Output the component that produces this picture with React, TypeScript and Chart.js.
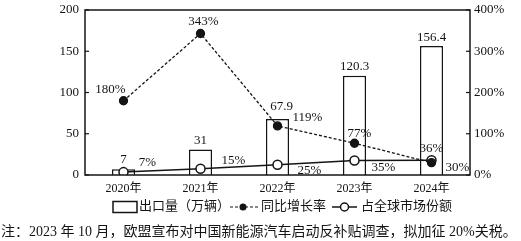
import React, { useEffect, useRef } from "react";
import { Chart, registerables } from "chart.js";

Chart.register(...registerables);

const categories = ["2020年", "2021年", "2022年", "2023年", "2024年"];
const exportVolume = [7, 31, 67.9, 120.3, 156.4];
const growthRate = [180, 343, 119, 77, 30];
const globalShare = [7, 15, 25, 35, 36];
const leftTicks = [0, 50, 100, 150, 200];
const rightTicks = [0, 100, 200, 300, 400];
const legendLabels = ["出口量（万辆）", "同比增长率", "占全球市场份额"];
const noteText = "注：2023 年 10 月，欧盟宣布对中国新能源汽车启动反补贴调查，拟加征 20%关税。";

// label offsets (style only)
const barLabelOffsets = [[0, -10], [0, -9], [4, -12], [0, -9], [0, -8]];
const growthLabelOffsets = [[-13, -11], [3, -12], [30, -8], [5, -10], [26, 5]];
const shareLabelOffsets = [[24, -10], [33, -8], [32, 6], [29, 7], [0, -12]];

const SERIF = "'Liberation Serif', 'Noto Sans CJK SC', serif";
const INK = "#141414";

const overlayPlugin = {
  id: "overlay",
  afterDatasetsDraw(chart: any) {
    const ctx = chart.ctx;
    const a = chart.chartArea;
    ctx.save();
    ctx.strokeStyle = INK;
    ctx.lineWidth = 1.5;
    ctx.strokeRect(a.left, a.top, a.right - a.left, a.bottom - a.top);
    const yl = chart.scales.y;
    const yr = chart.scales.y1;
    ctx.lineWidth = 1.2;
    yl.ticks.forEach((t: any) => {
      const y = yl.getPixelForValue(t.value);
      ctx.beginPath();
      ctx.moveTo(a.left, y);
      ctx.lineTo(a.left + 4, y);
      ctx.stroke();
    });
    yr.ticks.forEach((t: any) => {
      const y = yr.getPixelForValue(t.value);
      ctx.beginPath();
      ctx.moveTo(a.right, y);
      ctx.lineTo(a.right - 4, y);
      ctx.stroke();
    });

    ctx.fillStyle = INK;
    ctx.font = `13px ${SERIF}`;
    ctx.textAlign = "center";
    ctx.textBaseline = "middle";
    const drawLabels = (dsIndex: number, values: number[], offs: number[][], fmt: (v: number) => string) => {
      const meta = chart.getDatasetMeta(dsIndex);
      meta.data.forEach((el: any, i: number) => {
        ctx.fillText(fmt(values[i]), el.x + offs[i][0], el.y + offs[i][1]);
      });
    };
    drawLabels(2, exportVolume, barLabelOffsets, (v) => String(v));
    drawLabels(0, growthRate, growthLabelOffsets, (v) => v + "%");
    drawLabels(1, globalShare, shareLabelOffsets, (v) => v + "%");

    const ly = 207;
    ctx.lineWidth = 1.5;
    ctx.strokeRect(113, ly - 5.5, 24, 11);
    ctx.textAlign = "left";
    ctx.font = `13px ${SERIF}`;
    ctx.fillText(legendLabels[0], 139, ly);
    ctx.lineWidth = 1.2;
    ctx.setLineDash([3, 2]);
    ctx.beginPath();
    ctx.moveTo(230, ly);
    ctx.lineTo(258, ly);
    ctx.stroke();
    ctx.setLineDash([]);
    ctx.beginPath();
    ctx.arc(243, ly, 3.5, 0, Math.PI * 2);
    ctx.fill();
    ctx.fillText(legendLabels[1], 261, ly);
    ctx.lineWidth = 1.5;
    ctx.beginPath();
    ctx.moveTo(332, ly);
    ctx.lineTo(357, ly);
    ctx.stroke();
    ctx.beginPath();
    ctx.arc(344.5, ly, 4, 0, Math.PI * 2);
    ctx.fillStyle = "#fff";
    ctx.fill();
    ctx.stroke();
    ctx.fillStyle = INK;
    ctx.fillText(legendLabels[2], 361, ly);

    ctx.font = `14px ${SERIF}`;
    ctx.fillText(noteText, 1, 232);
    ctx.restore();
  },
};

const noPad = (s: any, w: number) => {
  s.width = w;
  s.paddingTop = 0;
  s.paddingBottom = 0;
};

export default function App() {
  const ref = useRef<HTMLCanvasElement | null>(null);
  useEffect(() => {
    if (!ref.current) return;
    const chart = new Chart(ref.current, {
      type: "bar",
      data: {
        labels: categories,
        datasets: [
          {
            type: "line",
            label: legendLabels[1],
            data: growthRate,
            yAxisID: "y1",
            borderColor: INK,
            borderWidth: 1.3,
            borderDash: [3, 2],
            pointRadius: 4,
            pointBackgroundColor: INK,
            pointBorderColor: INK,
            fill: false,
            tension: 0,
          } as any,
          {
            type: "line",
            label: legendLabels[2],
            data: globalShare,
            yAxisID: "y1",
            borderColor: INK,
            borderWidth: 1.5,
            pointRadius: 4.5,
            pointBorderWidth: 1.5,
            pointBackgroundColor: "#fff",
            pointBorderColor: INK,
            fill: false,
            tension: 0,
          } as any,
          {
            type: "bar",
            label: legendLabels[0],
            data: exportVolume,
            yAxisID: "y",
            backgroundColor: "#fff",
            borderColor: INK,
            borderWidth: 1.5,
            barPercentage: 0.3,
            categoryPercentage: 1,
          } as any,
        ],
      },
      options: {
        responsive: false,
        animation: false,
        layout: { padding: { top: 10, right: 0, left: 0, bottom: 0 } },
        plugins: { legend: { display: false }, tooltip: { enabled: false } },
        scales: {
          x: {
            grid: { display: false, drawTicks: false },
            border: { display: false },
            ticks: { color: INK, font: { family: SERIF, size: 12 }, padding: 7 },
            afterFit: (s: any) => { s.height = 66; s.paddingLeft = 0; s.paddingRight = 0; },
          },
          y: {
            position: "left",
            min: 0,
            max: 200,
            afterBuildTicks: (s: any) => { s.ticks = leftTicks.map((v) => ({ value: v })); },
            grid: { display: false, drawTicks: false },
            border: { display: false },
            ticks: { color: INK, font: { family: SERIF, size: 13 }, padding: 6 },
            afterFit: (s: any) => noPad(s, 85),
          },
          y1: {
            position: "right",
            min: 0,
            max: 400,
            afterBuildTicks: (s: any) => { s.ticks = rightTicks.map((v) => ({ value: v })); },
            grid: { display: false, drawTicks: false },
            border: { display: false },
            ticks: { color: INK, font: { family: SERIF, size: 13 }, padding: 4, callback: (v: any) => v + "%" },
            afterFit: (s: any) => noPad(s, 51),
          },
        },
      },
      plugins: [overlayPlugin],
    });
    return () => chart.destroy();
  }, []);
  return (
    <div style={{ position: "fixed", left: 0, top: 0, width: 521, height: 241, background: "#fff" }}>
      <canvas ref={ref} width={521} height={241} style={{ display: "block" }} />
    </div>
  );
}
